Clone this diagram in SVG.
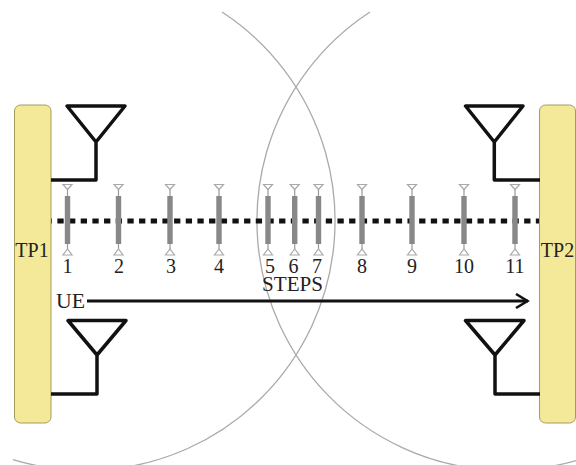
<svg xmlns="http://www.w3.org/2000/svg" width="576" height="465" viewBox="0 0 576 465">
<defs>
<marker id="arrow" viewBox="0 0 16 16" refX="13.500" refY="8" markerWidth="16" markerHeight="16" markerUnits="userSpaceOnUse" orient="auto"><path d="M1.500 1L13 8L1.500 15" fill="none" stroke="#111" stroke-width="2.500"/></marker>
<g id="ue"><path d="M-4.500 0.500H4.500L0 5.500Z" fill="#fff" stroke="#aaa" stroke-width="1.200"/><path d="M0 5.500V12M0 60V65" stroke="#999" stroke-width="1.200"/><rect x="-2.700" y="12" width="5.400" height="48" fill="#888"/><path d="M-4.500 71H4.500L0 65Z" fill="#fff" stroke="#aaa" stroke-width="1.200"/></g>
</defs>
<style>
.tp{fill:#f3e999;stroke:#a89c5c;stroke-width:1}
.ant{fill:none;stroke:#111;stroke-width:3.500;stroke-linejoin:round}
.t{font-family:"Liberation Serif",serif;font-size:20px;fill:#222;text-anchor:middle}
.c{fill:none;stroke:#aaa;stroke-width:1.300}
</style>
<rect width="576" height="465" fill="#fff"/>
<g id="connectors">
<path class="c" d="M222 12A249.500 249.500 0 0 1 13 459.600"/>
<path class="c" d="M370 12A249.500 249.500 0 0 0 576 460.500"/>
<path d="M45.700 221H539.500" fill="none" stroke="#111" stroke-width="5" stroke-dasharray="6.300 5.370"/>
<path d="M87 301H528" fill="none" stroke="#111" stroke-width="2.800" marker-end="url(#arrow)"/>
</g>
<g id="tp1"><rect class="tp" x="14.500" y="105" width="36.500" height="318" rx="6"/><text class="t" x="32" y="257">TP1</text></g>
<g id="tp2"><rect class="tp" x="539.500" y="105" width="36" height="318" rx="6"/><text class="t" x="557.500" y="257">TP2</text></g>
<g id="ant1"><path class="ant" d="M67 106H125L96 142Z M96 142V180H51"/></g>
<g id="ant2"><path class="ant" d="M465.500 106H523L494.300 142Z M494.300 142V180H540"/></g>
<g id="ant3"><path class="ant" d="M68 320.500H126L97 355Z M97 355V394H51"/></g>
<g id="ant4"><path class="ant" d="M465.500 320.500H524L495 355Z M495 355V394H540"/></g>
<g id="ue1"><use href="#ue" x="67.500" y="184"/><text class="t" x="67.500" y="272.500">1</text></g>
<g id="ue2"><use href="#ue" x="118.500" y="184"/><text class="t" x="119" y="272.500">2</text></g>
<g id="ue3"><use href="#ue" x="170" y="184"/><text class="t" x="171" y="272.500">3</text></g>
<g id="ue4"><use href="#ue" x="219" y="184"/><text class="t" x="219" y="272.500">4</text></g>
<g id="ue5"><use href="#ue" x="268" y="184"/><text class="t" x="270" y="272.500">5</text></g>
<g id="ue6"><use href="#ue" x="294.700" y="184"/><text class="t" x="293.500" y="272.500">6</text></g>
<g id="ue7"><use href="#ue" x="318.500" y="184"/><text class="t" x="317" y="272.500">7</text></g>
<g id="ue8"><use href="#ue" x="362" y="184"/><text class="t" x="362" y="272.500">8</text></g>
<g id="ue9"><use href="#ue" x="412" y="184"/><text class="t" x="412" y="272.500">9</text></g>
<g id="ue10"><use href="#ue" x="464" y="184"/><text class="t" x="464" y="272.500">10</text></g>
<g id="ue11"><use href="#ue" x="515" y="184"/><text class="t" x="515" y="272.500">11</text></g>
<text class="t" x="292.500" y="291" textLength="61" lengthAdjust="spacingAndGlyphs">STEPS</text>
<text class="t" x="70.500" y="308" textLength="29" lengthAdjust="spacingAndGlyphs">UE</text>
</svg>
